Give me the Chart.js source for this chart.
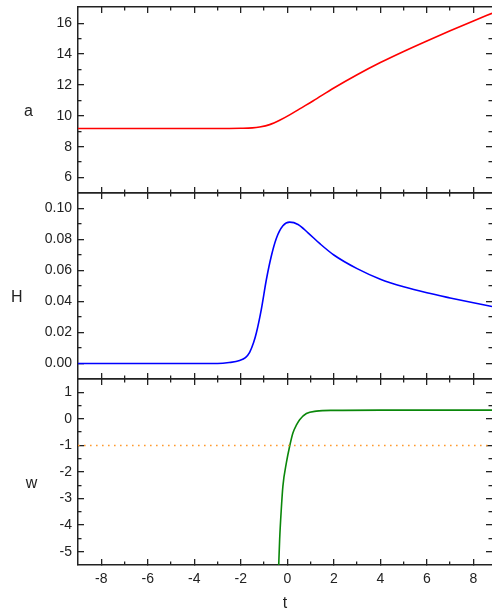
<!DOCTYPE html>
<html><head><meta charset="utf-8">
<script src="https://cdn.jsdelivr.net/npm/chart.js@4"></script>
<style>
html,body{margin:0;padding:0;background:#fff;overflow:hidden;width:492px;height:610px;}
canvas{position:absolute;left:0;}
</style></head><body>
<canvas id="c1" width="492" height="200" style="top:0px"></canvas>
<canvas id="c2" width="492" height="200" style="top:186px"></canvas>
<canvas id="c3" width="492" height="246" style="top:372px"></canvas>
<script>
// ---------- data ----------
const tA    = [-9, -4, -2.5, -2, -1.5, -1.19, -0.76, -0.33, 0.1, 0.53, 1.1, 2, 3, 4, 5, 6, 7, 8, 8.8];
const aVals = [9.18, 9.18, 9.18, 9.19, 9.22, 9.28, 9.43, 9.71, 10.06, 10.45, 10.96, 11.80, 12.66, 13.45, 14.17, 14.85, 15.51, 16.15, 16.64];

const tH    = [-9, -3, -2.5, -2.05, -1.8, -1.62, -1.45, -1.33, -1.12, -0.9, -0.69, -0.47, -0.19, 0.1, 0.46, 0.89, 1.4, 2, 3, 4, 5, 6, 7, 8, 8.8];
const hVals = [0, 0, 0.0006, 0.0019, 0.0038, 0.0072, 0.0135, 0.0198, 0.0348, 0.0542, 0.0692, 0.0808, 0.0888, 0.0912, 0.0897, 0.0843, 0.0773, 0.0700, 0.0612, 0.0544, 0.0495, 0.0456, 0.0423, 0.0392, 0.0368];

const tW    = [-0.38, -0.33, -0.26, -0.19, -0.04, 0.1, 0.24, 0.4, 0.53, 0.82, 1.25, 2, 4, 8.8];
const wVals = [-5.75, -4.54, -3.41, -2.53, -1.65, -1.03, -0.53, -0.22, -0.03, 0.2, 0.29, 0.32, 0.33, 0.33];

const wRefT    = [-9, 8.8];
const wRefVals = [-1, -1];

const xRange      = [-9, 8.8];
const xMajorTicks = [-8, -6, -4, -2, 0, 2, 4, 6, 8];
const xMinorTicks = [-7, -5, -3, -1, 1, 3, 5, 7];

const aRange = [5, 17.05],   aMajor = [6, 8, 10, 12, 14, 16],            aMinor = [7, 9, 11, 13, 15];
const hRange = [-0.01, 0.11], hMajor = [0, 0.02, 0.04, 0.06, 0.08, 0.10], hMinor = [0.01, 0.03, 0.05, 0.07, 0.09];
const wRange = [-5.5, 1.5],  wMajor = [-5, -4, -3, -2, -1, 0, 1],        wMinor = [-4.5, -3.5, -2.5, -1.5, -0.5, 0.5];

const yTitles = ['a', 'H', 'w'];
const xTitle  = 't';

// ---------- style ----------
const FONT = "'Liberation Sans', Arial, Helvetica, sans-serif";
const FRAME = '#222';
Chart.defaults.font.family = FONT;
Chart.defaults.font.size = 14;
Chart.defaults.color = '#222';

function toPts(xs, ys) { return xs.map((x, i) => ({x: x, y: ys[i]})); }

function axis(pos, range, ticksArr, o) {
  const isX = (pos === 'top' || pos === 'bottom');
  return {
    type: 'linear', position: pos, axis: isX ? 'x' : 'y',
    min: range[0], max: range[1], weight: o.weight,
    afterBuildTicks: s => { s.ticks = ticksArr.map(v => ({value: v})); },
    afterFit: s => {
      if (isX) s.height = o.size; else s.width = o.size;
      s.paddingTop = 0; s.paddingBottom = 0; s.paddingLeft = 0; s.paddingRight = 0;
    },
    grid: {display: true, drawOnChartArea: false, drawTicks: true, tickLength: -o.len,
           tickColor: FRAME, tickWidth: 1.3, color: FRAME, lineWidth: 1.3},
    border: {display: !!o.border, color: FRAME, width: 1.5},
    ticks: o.labels ? {display: true, padding: o.pad, color: '#222', font: {size: 14},
                       autoSkip: false, maxRotation: 0,
                       callback: v => Number(v).toFixed(o.dec)}
                    : {display: false},
    title: o.title ? {display: true, text: o.title, color: '#222', font: {size: 16},
                      padding: {top: 0, bottom: o.titlePad}} : {display: false}
  };
}

const yTitlePlugin = {
  id: 'yTitle',
  afterDraw(chart, args, opts) {
    const ctx = chart.ctx, ca = chart.chartArea, sc = chart.scales.y;
    ctx.save();
    ctx.font = '14px ' + FONT;
    let widest = 0;
    sc.ticks.forEach(t => { widest = Math.max(widest, ctx.measureText(String(t.label)).width); });
    ctx.font = '16px ' + FONT;
    ctx.fillStyle = '#222';
    ctx.textAlign = 'center';
    ctx.textBaseline = 'alphabetic';
    ctx.fillText(opts.text, ca.left - 6 - widest - 28, (ca.top + ca.bottom) / 2 + 16);
    ctx.restore();
  }
};

function makePanel(id, yRange, yMaj, yMin, dec, datasets, title, last) {
  const canvas = document.getElementById(id);
  const H = canvas.height;
  const bottomSize = last ? H - 7 - 186 : 0;
  new Chart(canvas, {
    type: 'line',
    data: {datasets: datasets},
    options: {
      responsive: false, animation: false, events: [],
      layout: {padding: {top: 7, left: 0, right: 0, bottom: last ? 0 : 7}},
      plugins: {legend: {display: false}, tooltip: {enabled: false}, yTitle: {text: title}},
      scales: {
        x:   axis('bottom', xRange, xMajorTicks, {weight: 1, size: bottomSize, len: 6, border: true,
                 labels: last, pad: 12, dec: 0, title: last ? xTitle : null, titlePad: 5}),
        xm:  axis('bottom', xRange, xMinorTicks, {weight: 0, size: 0, len: 3.5}),
        xt:  axis('top', xRange, xMajorTicks, {weight: 1, size: 0, len: 6, border: true}),
        xtm: axis('top', xRange, xMinorTicks, {weight: 0, size: 0, len: 3.5}),
        y:   axis('left', yRange, yMaj, {weight: 1, size: 78, len: 6, border: true, labels: true, pad: 12, dec: dec}),
        ym:  axis('left', yRange, yMin, {weight: 0, size: 0, len: 3.5}),
        yr:  axis('right', yRange, yMaj, {weight: 1, size: 0, len: 6}),
        yrm: axis('right', yRange, yMin, {weight: 0, size: 0, len: 3.5})
      }
    },
    plugins: [yTitlePlugin]
  });
}

const lineBase = {pointRadius: 0, fill: false, cubicInterpolationMode: 'monotone', xAxisID: 'x', yAxisID: 'y'};

makePanel('c1', aRange, aMajor, aMinor, 0,
  [Object.assign({data: toPts(tA, aVals), borderColor: '#ff0000', borderWidth: 1.6}, lineBase)], yTitles[0], false);
makePanel('c2', hRange, hMajor, hMinor, 2,
  [Object.assign({data: toPts(tH, hVals), borderColor: '#0000ff', borderWidth: 1.6}, lineBase)], yTitles[1], false);
makePanel('c3', wRange, wMajor, wMinor, 0,
  [Object.assign({data: toPts(wRefT, wRefVals), borderColor: '#ff9a2e', borderWidth: 1.6, borderDash: [1.6, 4.4]}, lineBase),
   Object.assign({data: toPts(tW, wVals), borderColor: '#0a870a', borderWidth: 1.6}, lineBase)], yTitles[2], true);
</script>
</body></html>
